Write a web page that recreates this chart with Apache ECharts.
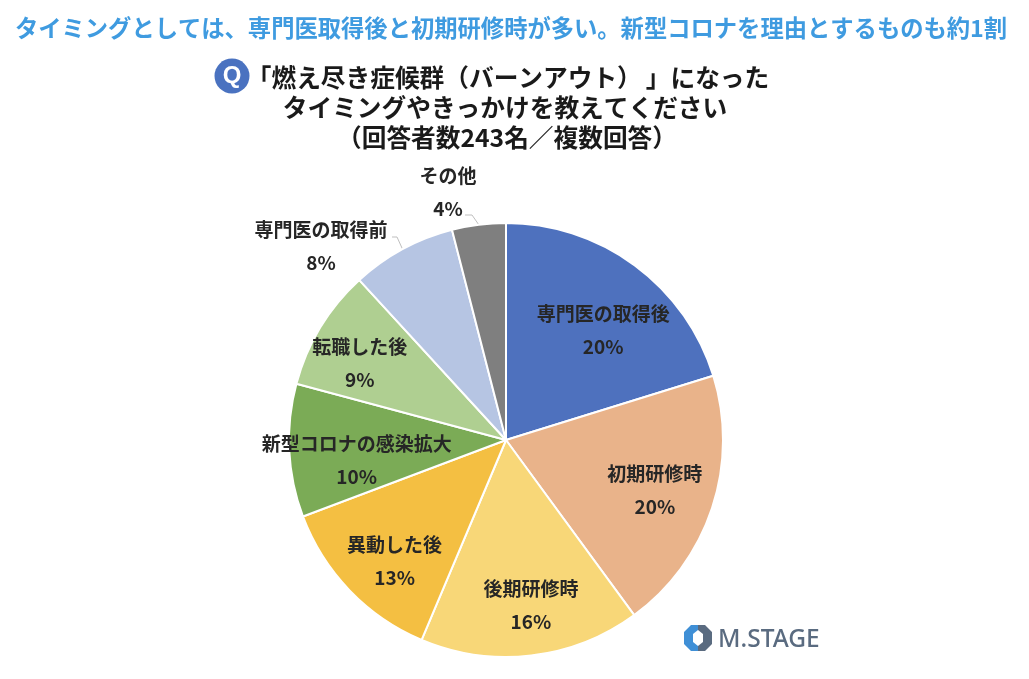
<!DOCTYPE html>
<html><head><meta charset="utf-8">
<style>html,body{margin:0;padding:0;background:#fff}#c{width:1029px;height:679px}</style>
<script src="https://cdn.jsdelivr.net/npm/echarts@6/dist/echarts.min.js"></script>
</head><body><div id="c"></div>
<script>
const categories = ['専門医の取得後','初期研修時','後期研修時','異動した後','新型コロナの感染拡大','転職した後','専門医の取得前','その他'];
const values = [20.2,19.7,16.4,12.9,9.9,9.0,7.8,4.0];
const colors = ['#4e71be','#e9b38a','#f8d778','#f4bf42','#7bab56','#afcf91','#b6c5e3','#7f7f7f'];
const headline = 'タイミングとしては、専門医取得後と初期研修時が多い。新型コロナを理由とするものも約1割';
const questionLines = ['{a|「燃え尽き症候群（バーンアウト）}{b|」になった}','タイミングやきっかけを教えてください','（回答者数243名／複数回答）'];
const questionLeft = [503,500,502];
const labelOffsets = [[31,-20],[43,15],[12,55],[-31,44],[-38,15],[-51,-19]];
const FONT = '"Noto Sans CJK JP","Noto Sans",sans-serif';
const chart = echarts.init(document.getElementById('c'), null, {renderer:'canvas'});
const labelStyle = {fontFamily:FONT,fontSize:19,fontWeight:700,color:'#262626',lineHeight:33,align:'center',
  formatter:p=>p.name+'\n'+Math.round(p.value)+'%'};
const seriesData = categories.map((name,i)=>{
  const inside = i < labelOffsets.length;
  return {name,value:values[i],itemStyle:{color:colors[i]},
    label: inside ? {position:'inside',offset:labelOffsets[i]} : {position:'outside'},
    labelLine:{show:!inside,lineStyle:{color:'#bfbfbf',width:1}}};
});
const outsideLayouts = {
  6:{x:321,y:246,line:[[392,237],[397,237]]},
  7:{x:448,y:192,line:[[465,215],[472,215]]}
};
const qFont = {fontFamily:FONT,fontSize:24.7,fontWeight:700,color:'#1a1a1a',lineHeight:30};
chart.setOption({
  backgroundColor:'#fff',animation:false,
  title:[
    {text:headline,left:506,top:12,textAlign:'center',textStyle:{fontFamily:FONT,fontSize:23.3,fontWeight:700,color:'#3f9be0'}},
    ...questionLines.map((t,i)=>({text:t,left:questionLeft[i],top:58+i*30,textAlign:'center',
      textStyle:{...qFont,rich:{a:{...qFont},b:{...qFont,padding:[0,0,0,4]}}}}))
  ],
  graphic:[
    {type:'circle',shape:{cx:232,cy:76,r:17.5},style:{fill:'#4a72c0'}},
    {type:'text',x:232,y:76,style:{text:'Q',fill:'#fff',font:'700 24px "Liberation Sans",sans-serif',textAlign:'center',textVerticalAlign:'middle'}},
    {type:'polygon',shape:{points:[[698,625],[691,625],[684,632],[684,644],[691,651],[698,651],[698,646],[693,642],[693,634],[698,630]]},style:{fill:'#3f8fd6'}},
    {type:'polygon',shape:{points:[[698,625],[705,625],[712,632],[712,644],[705,651],[698,651],[698,646],[703,642],[703,634],[698,630]]},style:{fill:'#5a6b80'}},
    {type:'text',x:718,y:640,style:{text:'M.STAGE',fill:'#5a6b80',font:'500 24.5px "Noto Sans",sans-serif',textVerticalAlign:'middle'}}
  ],
  series:[{
    type:'pie',center:[506,440],radius:[0,217],startAngle:90,clockwise:true,
    avoidLabelOverlap:false,
    itemStyle:{borderColor:'#fff',borderWidth:2},
    label:labelStyle,
    labelLine:{show:true},
    emphasis:{disabled:true},
    labelLayout:p=>{
      const o=outsideLayouts[p.dataIndex];
      if(!o) return {};
      const start=p.labelLinePoints?p.labelLinePoints[0]:o.line[1];
      return {x:o.x,y:o.y,align:'center',verticalAlign:'middle',labelLinePoints:[o.line[0],o.line[1],start]};
    },
    data:seriesData
  }]
});
</script></body></html>
